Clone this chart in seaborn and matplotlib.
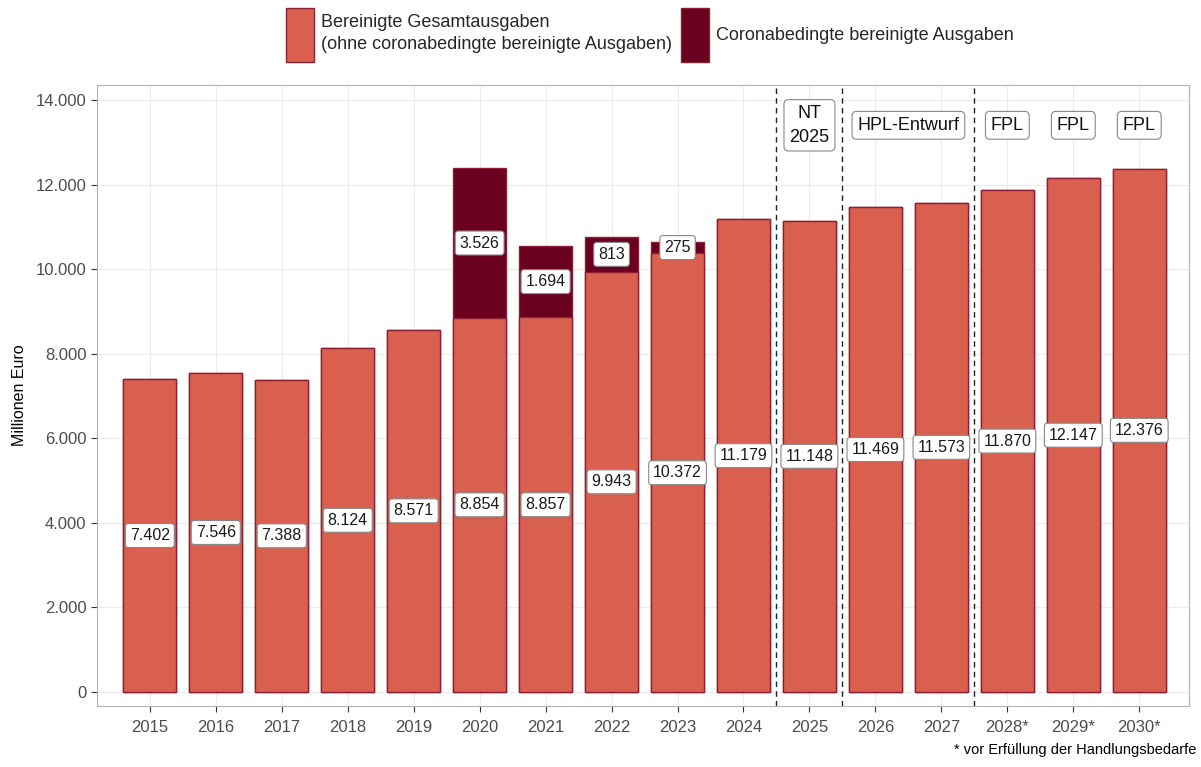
import numpy as np
import pandas as pd
import matplotlib.pyplot as plt
import seaborn as sns
from matplotlib.patches import Patch

# Data (Millionen Euro)
jahre = ["2015", "2016", "2017", "2018", "2019", "2020", "2021", "2022",
         "2023", "2024", "2025", "2026", "2027", "2028*", "2029*", "2030*"]
bereinigt = [7402, 7546, 7388, 8124, 8571, 8854, 8857, 9943,
             10372, 11179, 11148, 11469, 11573, 11870, 12147, 12376]
corona = [0, 0, 0, 0, 0, 3526, 1694, 813, 275, 0, 0, 0, 0, 0, 0, 0]

# plan labels: (text, first category, last category)
plan_labels = [("NT\n2025", "2025", "2025"),
               ("HPL-Entwurf", "2026", "2027"),
               ("FPL", "2028*", "2028*"),
               ("FPL", "2029*", "2029*"),
               ("FPL", "2030*", "2030*")]
trennlinien = ["2024", "2025", "2027"]

col_base = "#D9604F"
col_corona = "#69001F"
col_edge = "#8E1F33"

def fmt(v):
    return f"{v:,.0f}".replace(",", ".")

df = pd.DataFrame({"jahr": jahre, "base": bereinigt, "corona": corona})
df["total"] = df["base"] + df["corona"]

sns.set_style("whitegrid")
plt.rcParams["font.family"] = ["Liberation Sans", "DejaVu Sans"]

fig = plt.figure(figsize=(12.01, 7.67), dpi=100)
ax = fig.add_axes([0.0808, 0.0795, 0.909, 0.8095])

sns.barplot(data=df, x="jahr", y="total", order=jahre, color=col_corona,
            saturation=1, width=0.8, edgecolor=col_edge, linewidth=1, ax=ax)
sns.barplot(data=df, x="jahr", y="base", order=jahre, color=col_base,
            saturation=1, width=0.8, edgecolor=col_edge, linewidth=1, ax=ax)

box = dict(boxstyle="round,pad=0.28,rounding_size=0.2", fc="white", ec="#888888", lw=0.8)
for i, row in df.iterrows():
    ax.text(i, row["base"] / 2, fmt(row["base"]), ha="center", va="center",
            fontsize=11.5, color="#1a1a1a", bbox=box, zorder=5)
    if row["corona"] > 0:
        ax.text(i, row["base"] + row["corona"] / 2, fmt(row["corona"]),
                ha="center", va="center", fontsize=11.5, color="#1a1a1a",
                bbox=box, zorder=5)

for j in trennlinien:
    ax.axvline(jahre.index(j) + 0.5, color="#222222", ls=(0, (4, 3)), lw=1)

for txt, a, b in plan_labels:
    xm = (jahre.index(a) + jahre.index(b)) / 2
    ax.text(xm, 13400, txt, ha="center", va="center", fontsize=13,
            linespacing=1.5, color="#111111",
            bbox=dict(boxstyle="round,pad=0.3,rounding_size=0.25",
                      fc="white", ec="#888888", lw=0.8), zorder=5)

ax.set_xlim(-0.8, 15.75)
ax.set_ylim(-330, 14350)
ax.set_yticks(np.arange(0, 14001, 2000))
ax.set_yticklabels([fmt(v) for v in np.arange(0, 14001, 2000)])
ax.set_xlabel("")
ax.set_ylabel("Millionen Euro", fontsize=11.5, color="black", labelpad=6)
ax.tick_params(axis="both", labelsize=12, length=4, width=0.8,
               color="#333333", labelcolor="#4D4D4D", bottom=True, left=True)
ax.tick_params(axis="x", pad=6)
ax.grid(True, color="#EBEBEB", lw=0.8)
ax.set_axisbelow(True)
for s in ax.spines.values():
    s.set_color("#B3B3B3")
    s.set_linewidth(0.8)

handles = [Patch(fc=col_base, ec=col_edge, lw=1),
           Patch(fc=col_corona, ec=col_edge, lw=1)]
leg = fig.legend(handles,
                 ["Bereinigte Gesamtausgaben\n(ohne coronabedingte bereinigte Ausgaben)",
                  "Coronabedingte bereinigte Ausgaben"],
                 loc="center", bbox_to_anchor=(0.541, 0.954), ncol=2, frameon=False,
                 fontsize=13, handlelength=1.55, handleheight=4.2, columnspacing=0.5,
                 handletextpad=0.4)
for t in leg.get_texts():
    t.set_linespacing(1.4)

fig.text(0.996, 0.022, "* vor Erfüllung der Handlungsbedarfe", ha="right",
         va="center", fontsize=10.5, color="black")

fig.savefig("out.png", dpi=100)
